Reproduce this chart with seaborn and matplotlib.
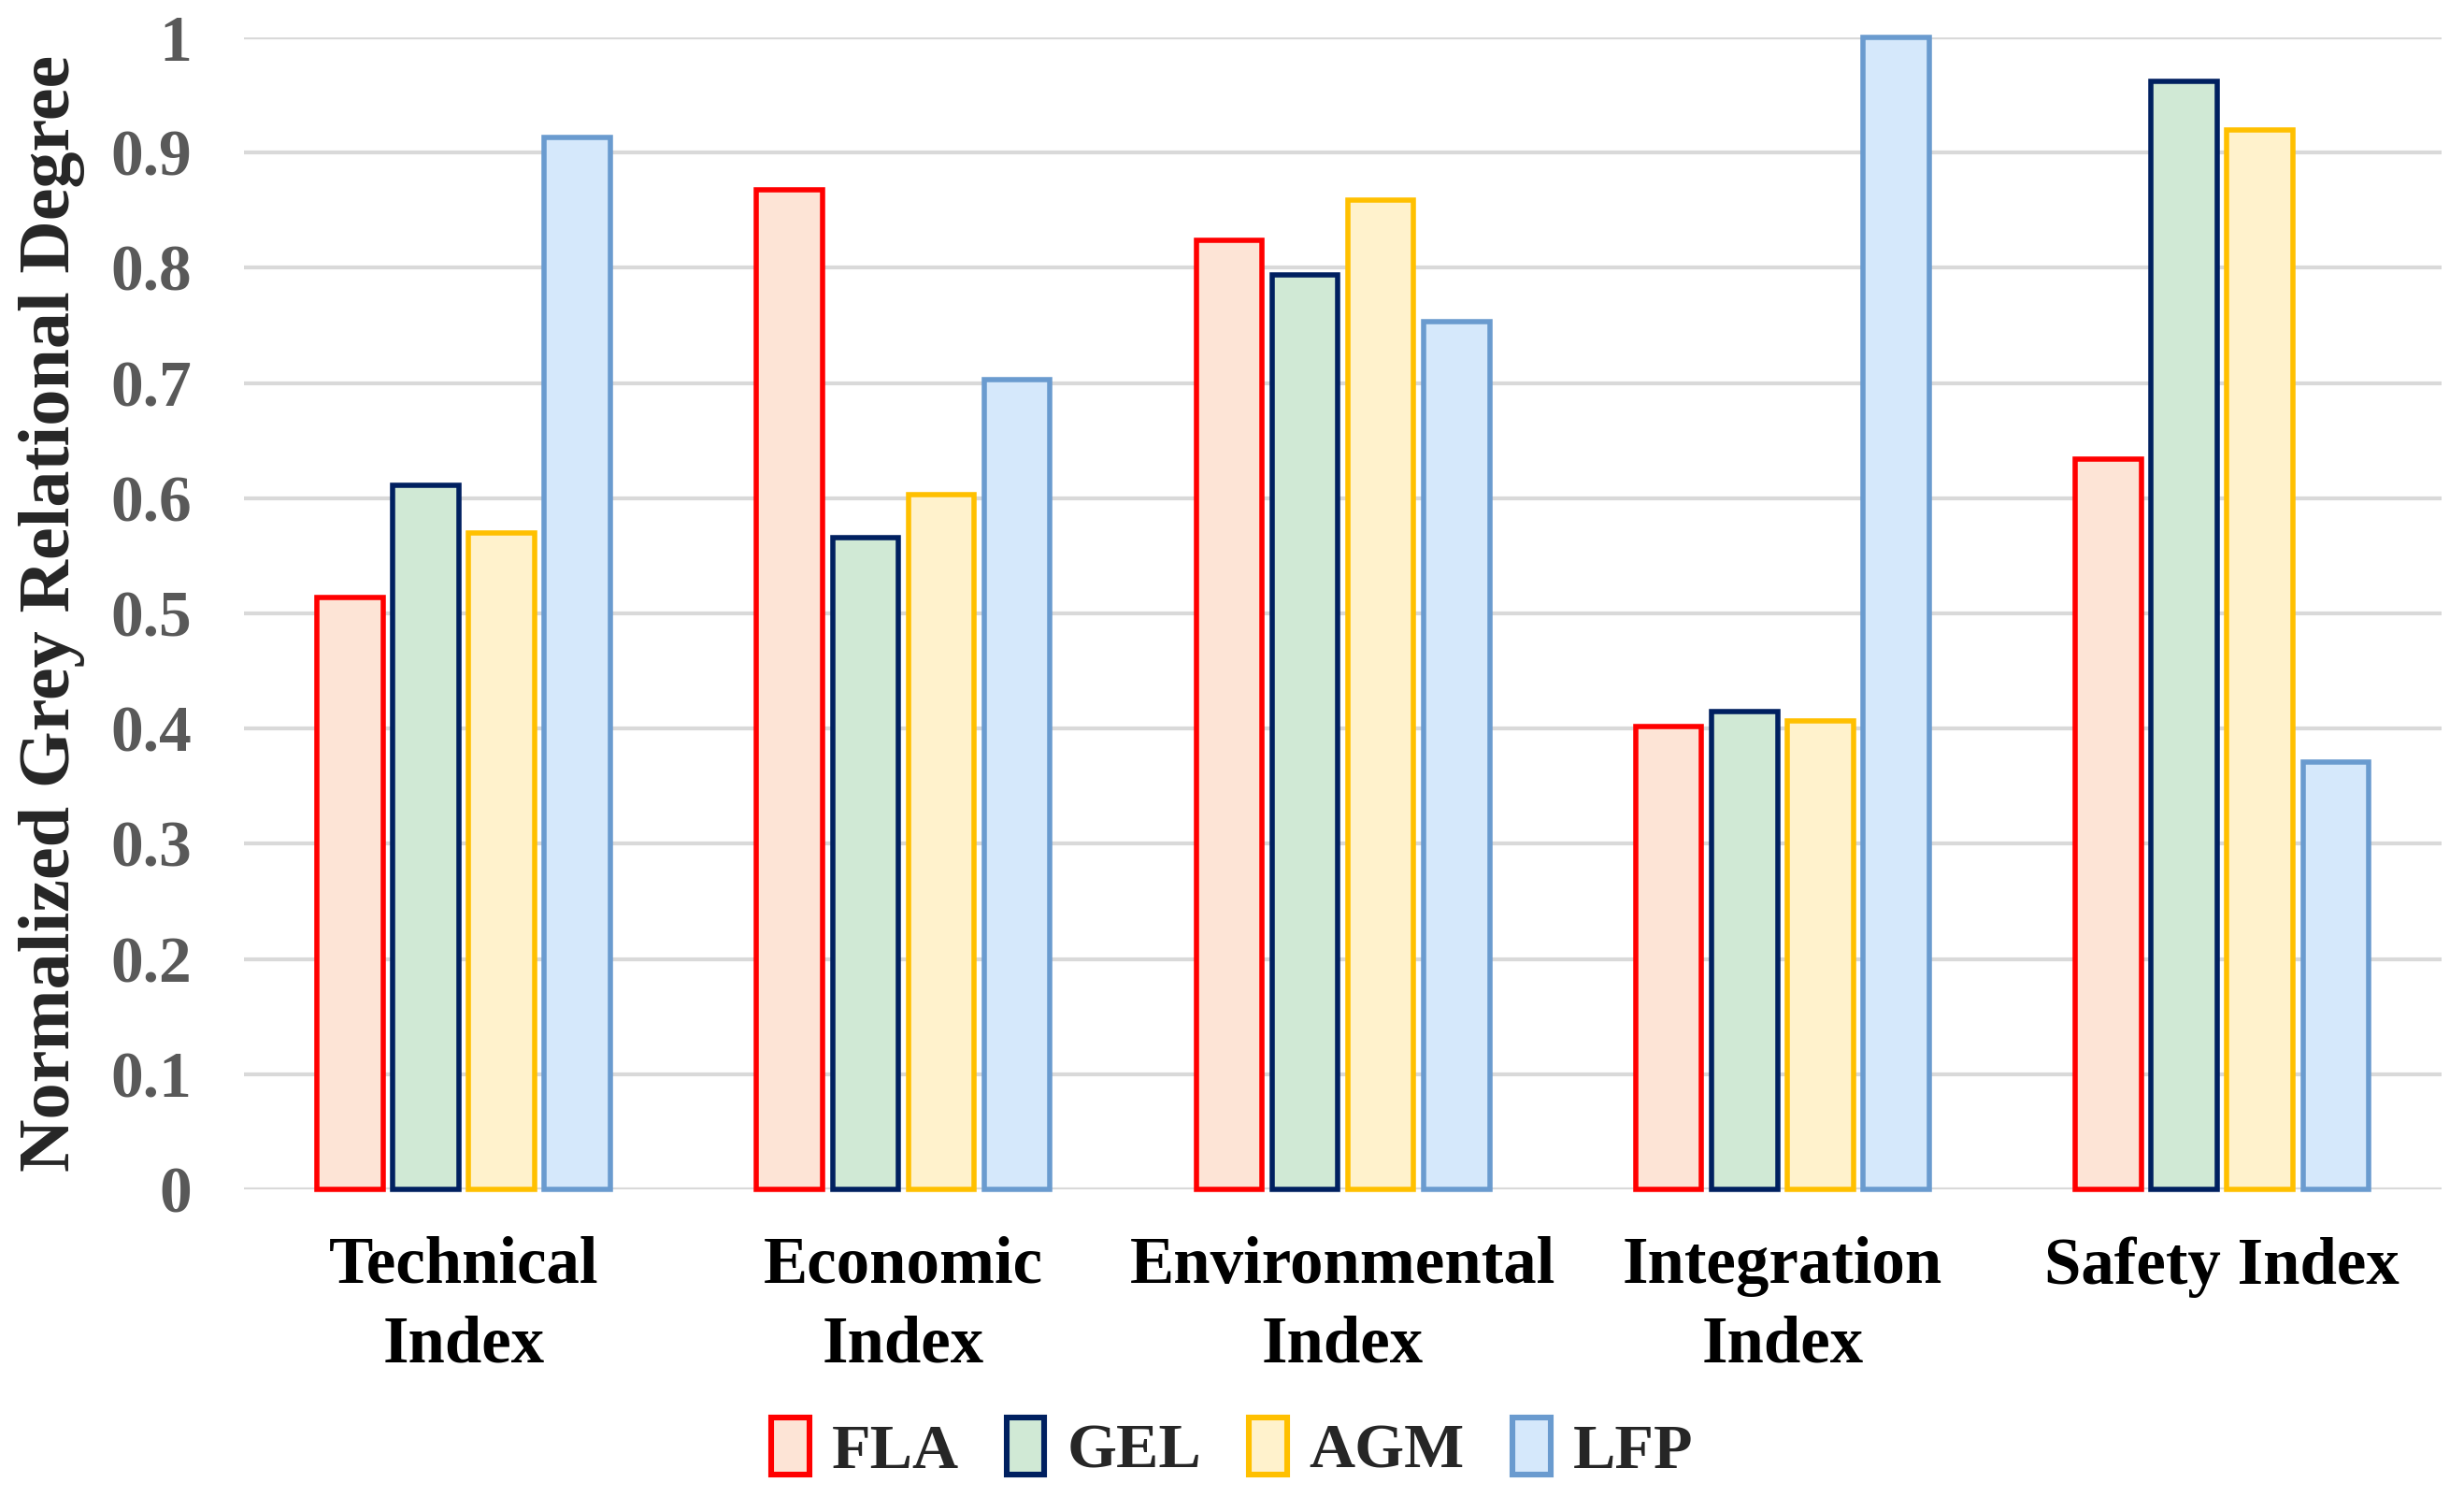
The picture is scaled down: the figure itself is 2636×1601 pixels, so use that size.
import pandas as pd
import matplotlib.pyplot as plt
import seaborn as sns
from matplotlib.patches import Patch

# Grey relational degree per evaluation index and battery type
categories = ['Technical\nIndex', 'Economic\nIndex', 'Environmental\nIndex',
              'Integration\nIndex', 'Safety Index']
batteries = ['FLA', 'GEL', 'AGM', 'LFP']
fla = [0.514, 0.868, 0.824, 0.402, 0.634]
gel = [0.611, 0.566, 0.794, 0.415, 0.962]
agm = [0.570, 0.603, 0.859, 0.407, 0.920]
lfp = [0.913, 0.703, 0.753, 1.000, 0.371]

fills = ['#FDE4D6', '#D0E9D5', '#FFF2CC', '#D5E8FB']
edges = ['#FF0000', '#002060', '#FFC000', '#6A9BCF']

df = pd.DataFrame({'Index': categories, 'FLA': fla, 'GEL': gel, 'AGM': agm, 'LFP': lfp})
df = df.melt(id_vars='Index', var_name='Battery', value_name='Degree')

sns.set_style('white')
plt.rcParams['font.family'] = ['Liberation Serif', 'DejaVu Serif']
plt.rcParams['font.weight'] = 'bold'

fig = plt.figure(figsize=(13.18, 8.005), dpi=200)
ax = fig.add_axes([0.099, 0.2055, 0.892, 0.7695])

sns.barplot(data=df, x='Index', y='Degree', hue='Battery', hue_order=batteries,
            palette=fills, saturation=1, width=0.69, gap=0.13, linewidth=2.0,
            ax=ax, legend=False, zorder=3)
for cont, ec in zip(ax.containers, edges):
    for bar in cont:
        bar.set_edgecolor(ec)
        bar.set_clip_on(False)

ax.set_ylim(0, 1.0)
ax.set_yticks([i / 10 for i in range(11)])
ax.set_yticklabels(['0'] + [f'0.{i}' for i in range(1, 10)] + ['1'])
ax.yaxis.grid(True, color='#D9D9D9', linewidth=1.5, zorder=0)
ax.set_axisbelow(True)
for s in ax.spines.values():
    s.set_visible(False)
ax.tick_params(axis='y', length=0, pad=20, labelsize=25, labelcolor='#595959')
ax.tick_params(axis='x', length=0, pad=18, labelsize=25.5, labelcolor='black')
for t in ax.get_yticklabels():
    t.set_fontweight('bold')
for t in ax.get_xticklabels():
    t.set_fontweight('bold')
    t.set_linespacing(1.4)
ax.set_xlabel('')
ax.set_ylabel('Normalized Grey Relational Degree', fontsize=28.2, fontweight='bold', labelpad=10)

handles = [Patch(facecolor=f, edgecolor=e, linewidth=2.2) for f, e in zip(fills, edges)]
fig.legend(handles, batteries, loc='center', bbox_to_anchor=(0.5, 0.032), ncol=4,
           frameon=False, handlelength=0.6, handleheight=1.0,
           handletextpad=0.35, columnspacing=0.75, prop={'weight': 'bold', 'size': 24.5})

fig.savefig('out.png', dpi=200)
